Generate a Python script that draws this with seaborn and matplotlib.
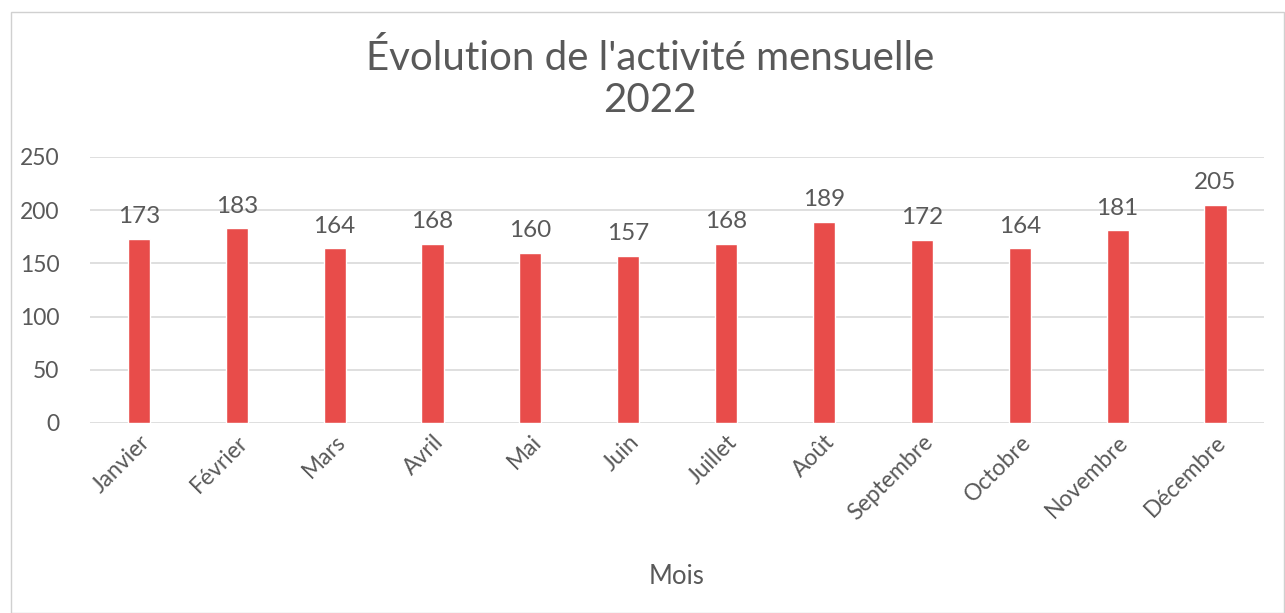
import matplotlib
matplotlib.use("Agg")
import matplotlib.pyplot as plt
import seaborn as sns
import pandas as pd
from matplotlib.patches import Rectangle

mois = ['Janvier', 'Février', 'Mars', 'Avril', 'Mai', 'Juin', 'Juillet', 'Août',
        'Septembre', 'Octobre', 'Novembre', 'Décembre']
activite = [173, 183, 164, 168, 160, 157, 168, 189, 172, 164, 181, 205]
yticks = [0, 50, 100, 150, 200, 250]

df = pd.DataFrame({'Mois': mois, 'Activité': activite})

sns.set_style('white')
plt.rcParams['font.family'] = ['Lato', 'DejaVu Sans']
grey = '#595959'

fig = plt.figure(figsize=(12.85, 6.13), dpi=100)
ax = fig.add_axes([0.070, 0.310, 0.914, 0.434])

sns.barplot(data=df, x='Mois', y='Activité', color='#E84C4A', saturation=1,
            width=0.225, ax=ax, zorder=3)

for i, v in enumerate(activite):
    ax.text(i, v + 11, str(v), ha='center', va='bottom', fontsize=17.5, color=grey)

ax.set_ylim(0, 250)
ax.set_yticks(yticks)
ax.set_xlim(-0.5, len(mois) - 0.5)
ax.yaxis.grid(True, color='#D9D9D9', lw=1.2, zorder=0)
ax.xaxis.grid(False)
for s in ax.spines.values():
    s.set_visible(False)
ax.tick_params(axis='y', length=0, pad=22, labelsize=16.5, labelcolor=grey)
ax.tick_params(axis='x', length=0, pad=6, labelsize=16.5, labelcolor=grey)
plt.setp(ax.get_xticklabels(), rotation=45, ha='right', rotation_mode='anchor')
ax.set_ylabel('')
ax.set_xlabel('')

fig.text(677 / 1285, 1 - 577 / 613, 'Mois', ha='center', va='center',
         fontsize=18.5, color=grey)
fig.text(0.506, 1 - 79 / 613, "Évolution de l'activité mensuelle\n2022", ha='center',
         va='center', fontsize=29, color=grey, linespacing=1.2)

fig.patches.append(Rectangle((11 / 1285, 0), 1 - 11 / 1285 - 0.001, 1 - 12 / 613,
                             transform=fig.transFigure, fill=False,
                             edgecolor='#D0D0D0', lw=1))

fig.savefig('out.png', dpi=100)
